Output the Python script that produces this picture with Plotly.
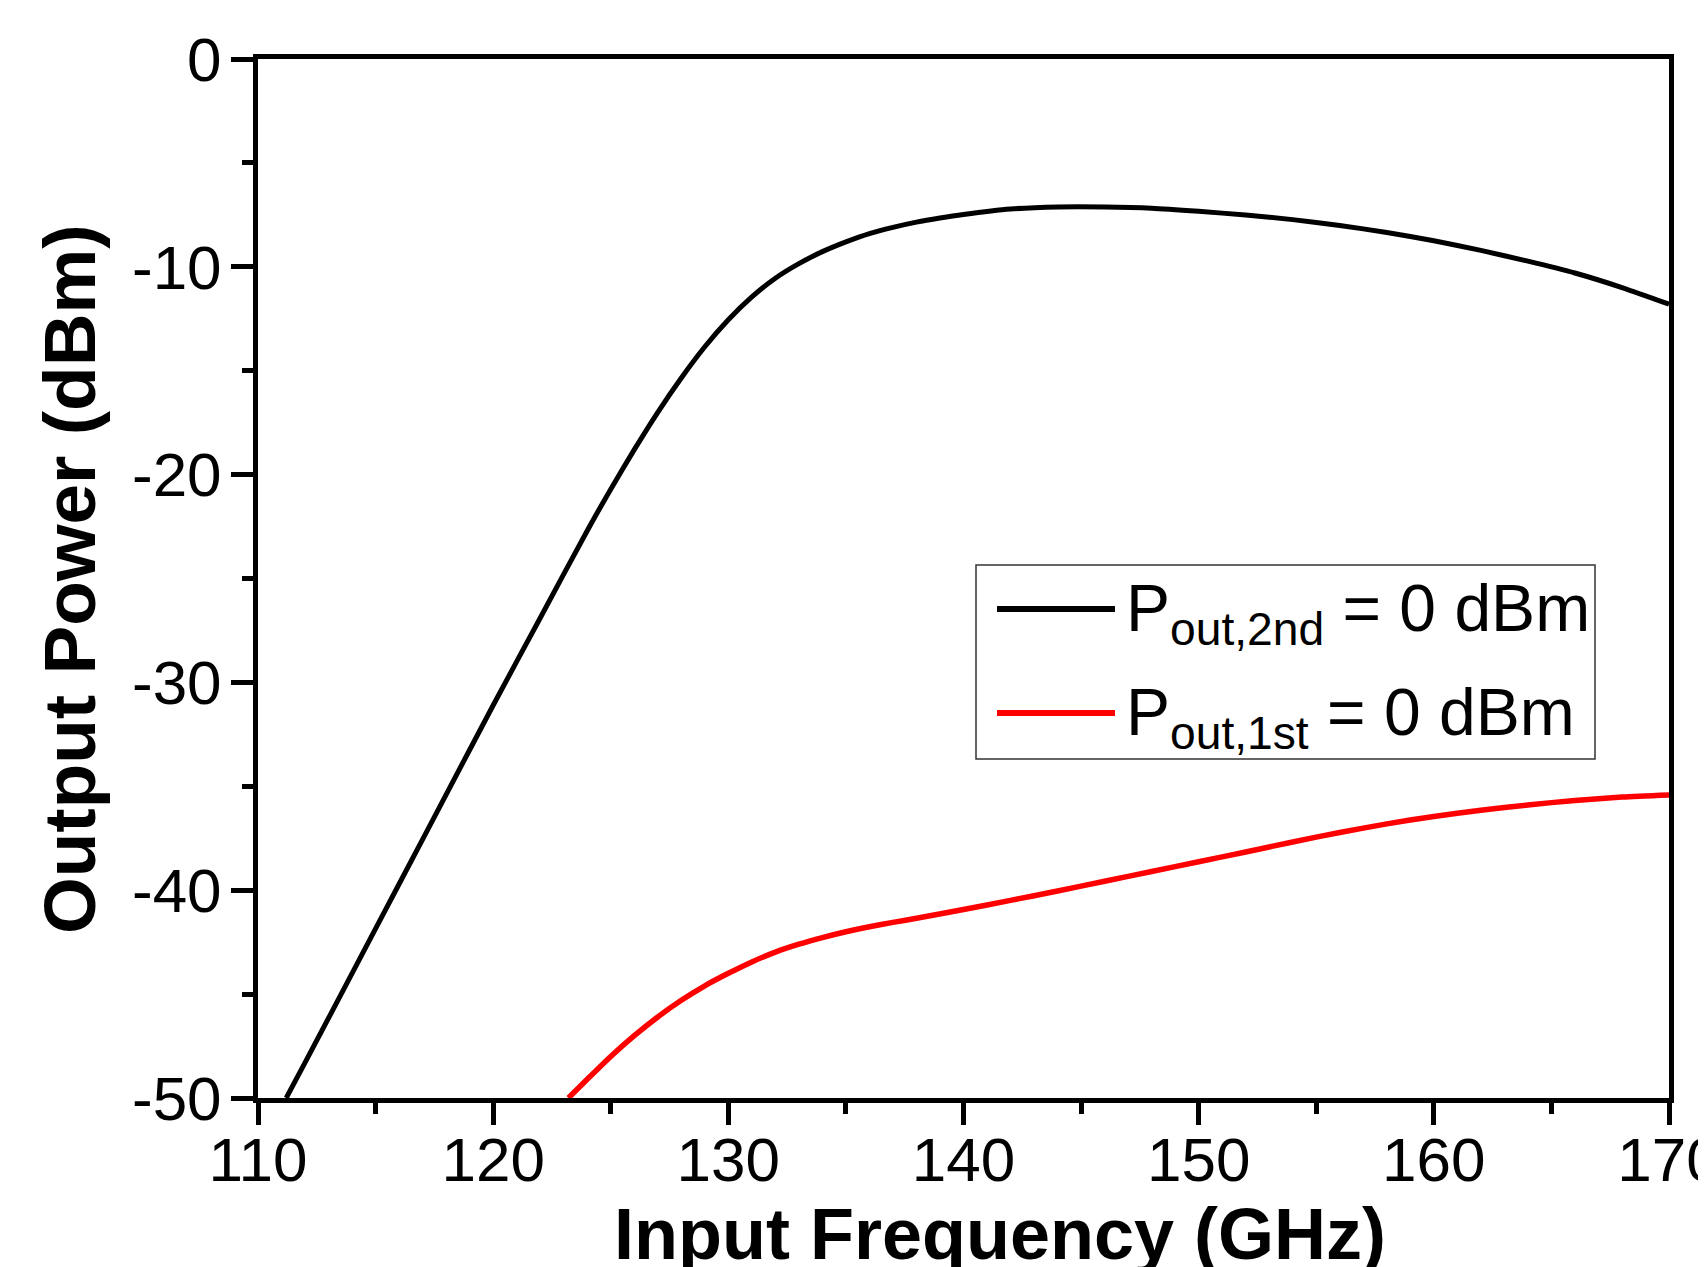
import plotly.graph_objects as go

# Black curve: P_out,2nd = 0 dBm
freq_2nd = [111.2, 112, 114, 116, 118, 120, 122, 124, 125, 126, 127, 128, 129, 130, 131, 132, 133,
            134, 135, 136, 137, 138, 139, 140, 142, 144, 146, 148, 150, 152, 154, 156, 158,
            160, 162, 164, 166, 168, 170]
pout_2nd = [-50.0, -48.3, -44.0, -39.7, -35.4, -31.1, -26.9, -22.7, -20.7, -18.8, -17.0, -15.35,
            -13.85, -12.55, -11.45, -10.55, -9.85, -9.27, -8.8, -8.4, -8.1, -7.85, -7.65, -7.48,
            -7.22, -7.12, -7.12, -7.18, -7.33, -7.51, -7.73, -8.01, -8.35, -8.75, -9.21,
            -9.73, -10.3, -11.0, -11.8]

# Red curve: P_out,1st = 0 dBm
freq_1st = [123.2, 124, 125, 126, 127, 128, 129, 130, 131, 132, 133, 134, 135, 136, 137, 138,
            140, 142, 144, 146, 148, 150, 152, 154, 156, 158, 160, 162, 164, 166, 168, 170]
pout_1st = [-50.0, -49.1, -48.0, -47.0, -46.1, -45.3, -44.6, -44.0, -43.45, -42.98, -42.6,
            -42.28, -42.0, -41.76, -41.55, -41.35, -40.93, -40.49, -40.04, -39.57, -39.1,
            -38.63, -38.16, -37.68, -37.22, -36.81, -36.45, -36.15, -35.9, -35.68, -35.52, -35.42]

x_tickvals = [110, 120, 130, 140, 150, 160, 170]
x_ticktext = ["110", "120", "130", "140", "150", "160", "170"]
y_tickvals = [0, -10, -20, -30, -40, -50]
y_ticktext = ["0", "-10", "-20", "-30", "-40", "-50"]

legend_labels = ["P<sub>out,2nd</sub> = 0 dBm", "P<sub>out,1st</sub> = 0 dBm"]
series_colors = ["#000000", "#ff0000"]

TICK_FONT = "Liberation Sans Narrow, Liberation Sans, Arial, sans-serif"
TITLE_FONT = "Liberation Sans, Arial, sans-serif"

fig = go.Figure()
fig.add_trace(go.Scatter(x=freq_2nd, y=pout_2nd, mode="lines",
                         line=dict(color=series_colors[0], width=5, shape="spline", smoothing=0.7),
                         showlegend=False))
fig.add_trace(go.Scatter(x=freq_1st, y=pout_1st, mode="lines",
                         line=dict(color=series_colors[1], width=5.5, shape="spline", smoothing=0.7),
                         showlegend=False))

axis_common = dict(
    showgrid=False, zeroline=False, showline=True, linecolor="black", linewidth=5,
    mirror=True, ticks="outside", ticklen=22, tickwidth=5, tickcolor="black",
    tickfont=dict(family=TICK_FONT, size=62, color="black"), automargin=False,
    ticklabeloverflow="allow",
)

fig.update_xaxes(range=[110, 170], tickvals=x_tickvals, ticktext=x_ticktext, ticklabelstandoff=-18,
                 minor=dict(ticks="outside", ticklen=11, tickwidth=5, tickcolor="black", dtick=5, tick0=110, showgrid=False),
                 **axis_common)
fig.update_yaxes(range=[-50, 0], tickvals=y_tickvals, ticktext=y_ticktext, ticklabelstandoff=-3,
                 minor=dict(ticks="outside", ticklen=11, tickwidth=5, tickcolor="black", dtick=5, tick0=0, showgrid=False),
                 **axis_common)

# Page offset (body margin ~8px): figure coords = page coords - 8
OFF = 8
L, R, T, B = 258 - OFF, 1669 - OFF, 59 - OFF, 1098 - OFF
FW, FH = 1706, 1267
W, H = R - L, B - T
def px(xp):
    return (xp - OFF - L) / W
def py(yp):
    return (B - (yp - OFF)) / H

fig.add_shape(type="rect", xref="paper", yref="paper", x0=px(976), x1=px(1595), y0=py(759), y1=py(565),
              line=dict(color="#333333", width=1.5), fillcolor="white", layer="above")
for i, (lab, col) in enumerate(zip(legend_labels, series_colors)):
    yl = [609, 713][i]
    fig.add_shape(type="line", xref="paper", yref="paper", x0=px(997), x1=px(1115), y0=py(yl), y1=py(yl),
                  line=dict(color=col, width=6))
    fig.add_annotation(xref="paper", yref="paper", x=px(1124), y=py(yl + 4), xanchor="left", yanchor="middle",
                       text=lab, showarrow=False, font=dict(family=TICK_FONT, size=66, color="black"))

fig.add_annotation(xref="paper", yref="paper", x=px(1000), y=py(1234), xanchor="center", yanchor="middle",
                   text="<b>Input Frequency (GHz)</b>", showarrow=False,
                   font=dict(family=TITLE_FONT, size=72, color="black"))
fig.add_annotation(xref="paper", yref="paper", x=px(70), y=py(579), xanchor="center", yanchor="middle",
                   text="<b>Output Power (dBm)</b>", textangle=-90, showarrow=False,
                   font=dict(family=TITLE_FONT, size=73, color="black"))

fig.update_layout(
    width=FW, height=FH,
    margin=dict(l=L, r=FW - R, t=T, b=FH - B, autoexpand=False),
    paper_bgcolor="white", plot_bgcolor="white",
    showlegend=False,
)

fig.write_html("out.html")
